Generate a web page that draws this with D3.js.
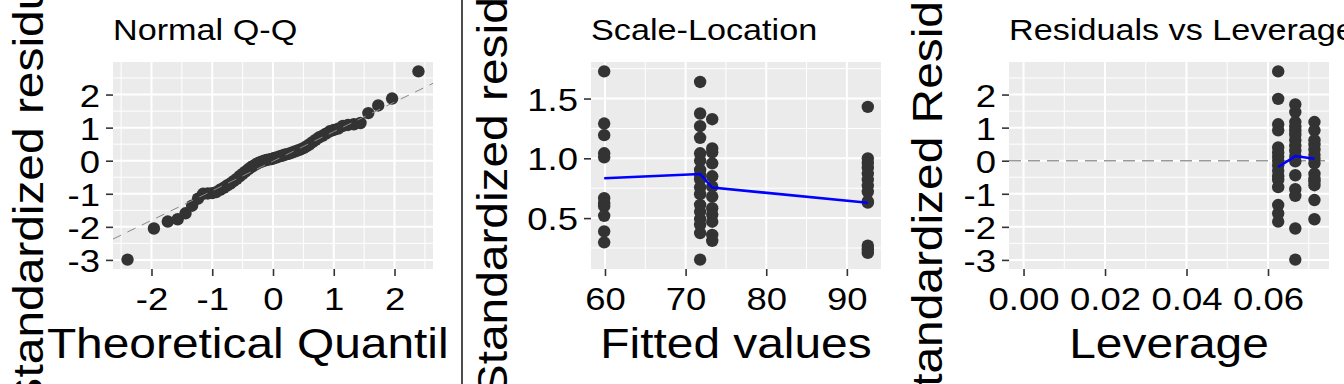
<!DOCTYPE html>
<html>
<head>
<meta charset="utf-8">
<script src="https://cdn.jsdelivr.net/npm/d3@7"></script>
<style>
  body { margin: 0; background: #fff; }
  svg { display: block; }
  text { font-family: "Liberation Sans", Arial, sans-serif; fill: #000; }
</style>
</head>
<body>
<svg id="fig" width="1344" height="384"></svg>
<script>
// ---- data ----

// Normal Q-Q: theoretical quantiles and sorted standardized residuals
const qqTheoretical = [
  -2.394, -1.960, -1.732, -1.569, -1.440, -1.331, -1.235, -1.150, -1.073, -1.001,
  -0.935, -0.872, -0.812, -0.755, -0.701, -0.649, -0.598, -0.549, -0.501, -0.454,
  -0.408, -0.363, -0.319, -0.275, -0.232, -0.189, -0.147, -0.105, -0.063, -0.021,
   0.021,  0.063,  0.105,  0.147,  0.189,  0.232,  0.275,  0.319,  0.363,  0.408,
   0.454,  0.501,  0.549,  0.598,  0.649,  0.701,  0.755,  0.812,  0.872,  0.935,
   1.001,  1.073,  1.150,  1.235,  1.331,  1.440,  1.569,  1.732,  1.960,  2.394
];
const qqSample = [
  -2.99, -2.05, -1.84, -1.77, -1.59, -1.36, -1.15, -1.00, -0.99, -0.98,
  -0.95, -0.88, -0.82, -0.75, -0.69, -0.62, -0.55, -0.47, -0.40, -0.33,
  -0.26, -0.20, -0.15, -0.10, -0.06, -0.03,  0.00,  0.02,  0.04,  0.05,
   0.08,  0.10,  0.13,  0.15,  0.18,  0.20,  0.22,  0.25,  0.28,  0.31,
   0.34,  0.38,  0.43,  0.49,  0.56,  0.63,  0.70,  0.75,  0.82,  0.89,
   0.93,  0.97,  1.05,  1.08,  1.10,  1.14,  1.44,  1.67,  1.88,  2.70
];
const qqLineIntercept = -0.015;
const qqLineSlope = 0.894;
const qqTicks = [-2, -1, 0, 1, 2];
const residTicks = [-3, -2, -1, 0, 1, 2];

// Scale-Location: sqrt(|standardized residuals|) by fitted value
const fittedLevels = [59.9, 71.8, 73.3, 92.6];
const slAt599 = [1.727, 1.291, 1.194, 1.042, 1.008, 0.667, 0.625, 0.600, 0.519, 0.389, 0.297];
const slAt718 = [1.639, 1.375, 1.269, 1.172, 1.042, 0.980, 0.903, 0.860, 0.825, 0.758, 0.700,
                 0.611, 0.555, 0.492, 0.444, 0.375, 0.153];
const slAt733 = [1.327, 1.083, 1.050, 0.958, 0.850, 0.763, 0.680, 0.583, 0.530, 0.470, 0.360, 0.310];
const slAt926 = [1.430, 1.000, 0.960, 0.920, 0.870, 0.820, 0.770, 0.720, 0.640, 0.630, 0.270, 0.240, 0.210];
const slSmooth = [0.833, 0.869, 0.756, 0.628];
const slTicksX = [60, 70, 80, 90];
const slTicksY = [0.5, 1.0, 1.5];

// Residuals vs Leverage
const leverageLevels = [0.0625, 0.0667, 0.0714];
const levAt0625 = [2.70, 1.87, 1.10, 0.92, 0.40, 0.25, 0.12, 0.00, -0.14, -0.30, -0.47, -0.58,
                   -0.80, -1.34, -1.59, -1.84];
const levAt0667 = [1.70, 1.47, 1.17, 1.02, 0.90, 0.78, 0.62, 0.45, 0.30, 0.13, -0.02, -0.44,
                   -0.86, -1.06, -2.05, -2.99];
const levAt0714 = [1.17, 0.92, 0.62, 0.48, 0.33, 0.18, 0.05, -0.08, -0.40, -0.55, -0.62, -0.74,
                   -1.19, -1.77];
const levSmooth = [-0.19, 0.14, 0.06];
const levTicks = [0, 0.02, 0.04, 0.06];

// ---- layout ----
const W = 1344, H = 384;
const plotTop = 62, plotBottom = 269;
const stretch = 1.14;          // glyphs in the reference are wider than Liberation Sans
const tickSize = 32, titleSize = 30, axisTitleSize = 42;

const svg = d3.select('#fig');
const defs = svg.append('defs');

function expand([a, b]) {
  const d = (b - a) * 0.05;
  return [a - d, b + d];
}

function minors(major, domain) {
  const step = major[1] - major[0];
  const out = [];
  for (let i = -1; i < major.length; i++) {
    const v = major[0] + step * (i + 0.5);
    if (v >= domain[0] && v <= domain[1]) out.push(v);
  }
  return out;
}

function panel(cfg) {
  const clipId = 'clip-' + cfg.id;
  defs.append('clipPath').attr('id', clipId)
    .append('rect')
    .attr('x', cfg.x0).attr('y', 0)
    .attr('width', cfg.x1 - cfg.x0).attr('height', H);

  const g = svg.append('g').attr('clip-path', `url(#${clipId})`);
  const x = d3.scaleLinear().domain(cfg.xDomain).range([cfg.left, cfg.right]);
  const y = d3.scaleLinear().domain(cfg.yDomain).range([plotBottom, plotTop]);

  g.append('rect')
    .attr('x', cfg.left).attr('y', plotTop)
    .attr('width', cfg.right - cfg.left).attr('height', plotBottom - plotTop)
    .attr('fill', '#EBEBEB');

  const grid = g.append('g');
  const vLines = (vals, w) => grid.append('g').selectAll('line').data(vals).join('line')
    .attr('x1', d => x(d)).attr('x2', d => x(d))
    .attr('y1', plotTop).attr('y2', plotBottom)
    .attr('stroke', '#fff').attr('stroke-width', w);
  const hLines = (vals, w) => grid.append('g').selectAll('line').data(vals).join('line')
    .attr('y1', d => y(d)).attr('y2', d => y(d))
    .attr('x1', cfg.left).attr('x2', cfg.right)
    .attr('stroke', '#fff').attr('stroke-width', w);
  vLines(minors(cfg.xTicks, cfg.xDomain), 1);
  hLines(minors(cfg.yTicks, cfg.yDomain), 1);
  vLines(cfg.xTicks, 2);
  hLines(cfg.yTicks, 2);

  // axes
  const xAxis = d3.axisBottom(x).tickValues(cfg.xTicks).tickSize(7).tickFormat(cfg.xFmt);
  const yAxis = d3.axisLeft(y).tickValues(cfg.yTicks).tickSize(7).tickFormat(cfg.yFmt);

  const gx = g.append('g').attr('transform', `translate(0,${plotBottom})`).call(xAxis);
  const gy = g.append('g').attr('transform', `translate(${cfg.left},0)`).call(yAxis);
  [gx, gy].forEach(a => {
    a.select('.domain').remove();
    a.selectAll('.tick line').attr('stroke', '#333').attr('stroke-width', 1.6);
    a.selectAll('.tick text')
      .attr('fill', '#000')
      .style('font-family', '"Liberation Sans", Arial, sans-serif')
      .style('font-size', tickSize + 'px');
  });
  gx.selectAll('.tick text')
    .attr('y', 41).attr('dy', null)
    .attr('transform', `scale(${stretch},1)`);
  gy.selectAll('.tick text')
    .attr('x', -13 / stretch).attr('dy', '0.36em')
    .attr('transform', `scale(${stretch},1)`);

  // titles
  g.append('text')
    .attr('transform', `translate(${cfg.left},40) scale(${stretch},1)`)
    .style('font-size', titleSize + 'px')
    .text(cfg.title);

  g.append('text')
    .attr('transform', `translate(${(cfg.left + cfg.right) / 2},358) scale(${stretch},1)`)
    .attr('text-anchor', 'middle')
    .style('font-size', axisTitleSize + 'px')
    .text(cfg.xTitle);

  const yt = g.append('g')
    .attr('transform', `translate(${cfg.yTitleX},${(plotTop + plotBottom) / 2 + 0.5}) rotate(-90) scale(${stretch},1)`);
  const ytText = yt.append('text')
    .attr('text-anchor', 'middle')
    .style('font-size', axisTitleSize + 'px')
    .text(cfg.yTitle);
  if (cfg.sqrtBar) {
    // vinculum of the square-root sign above the rotated title
    const len = ytText.node().getComputedTextLength();
    yt.append('line')
      .attr('x1', -len / 2 + 12).attr('x2', len / 2)
      .attr('y1', -45).attr('y2', -45)
      .attr('stroke', '#000').attr('stroke-width', 1.6 / stretch);
  }

  return { g, x, y };
}

const intFmt = d => String(d);

function qqPanel() {
  const pts = qqTheoretical.map((t, i) => [t, qqSample[i]]);
  const p = panel({
    id: 'qq', x0: 0, x1: 448, left: 113, right: 433,
    xDomain: expand(d3.extent(qqTheoretical)),
    yDomain: expand(d3.extent(qqSample)),
    xTicks: qqTicks, yTicks: residTicks, xFmt: intFmt, yFmt: intFmt,
    title: 'Normal Q-Q', xTitle: 'Theoretical Quantiles',
    yTitle: 'Standardized residuals', yTitleX: 43
  });
  p.g.append('g').selectAll('circle').data(pts).join('circle')
    .attr('cx', d => p.x(d[0])).attr('cy', d => p.y(d[1]))
    .attr('r', 6.2).attr('fill', '#333');
  const xd = p.x.domain();
  const line = d3.line().x(d => p.x(d)).y(d => p.y(qqLineIntercept + qqLineSlope * d));
  p.g.append('path')
    .attr('d', line(xd))
    .attr('fill', 'none').attr('stroke', '#888').attr('stroke-width', 1)
    .attr('stroke-dasharray', '9,7');
}

function slPanel() {
  const groups = [slAt599, slAt718, slAt733, slAt926];
  const pts = [];
  groups.forEach((vals, i) => vals.forEach(v => pts.push([fittedLevels[i], v])));
  const p = panel({
    id: 'sl', x0: 448, x1: 896, left: 591, right: 881,
    xDomain: expand(d3.extent(fittedLevels)),
    yDomain: expand(d3.extent(pts, d => d[1])),
    xTicks: slTicksX, yTicks: slTicksY, xFmt: intFmt, yFmt: d3.format('.1f'),
    title: 'Scale-Location', xTitle: 'Fitted values',
    yTitle: '\u221A|Standardized residuals|', yTitleX: 507, sqrtBar: true
  });
  p.g.append('g').selectAll('circle').data(pts).join('circle')
    .attr('cx', d => p.x(d[0])).attr('cy', d => p.y(d[1]))
    .attr('r', 6.2).attr('fill', '#333');
  const line = d3.line().x(d => p.x(d[0])).y(d => p.y(d[1]));
  p.g.append('path')
    .attr('d', line(fittedLevels.map((f, i) => [f, slSmooth[i]])))
    .attr('fill', 'none').attr('stroke', '#0000FF').attr('stroke-width', 2.6);
}

function levPanel() {
  const groups = [levAt0625, levAt0667, levAt0714];
  const pts = [];
  groups.forEach((vals, i) => vals.forEach(v => pts.push([leverageLevels[i], v])));
  const p = panel({
    id: 'lev', x0: 896, x1: 1344, left: 1009, right: 1329,
    xDomain: expand([0, d3.max(leverageLevels)]),
    yDomain: expand(d3.extent(pts, d => d[1])),
    xTicks: levTicks, yTicks: residTicks, xFmt: d3.format('.2f'), yFmt: intFmt,
    title: 'Residuals vs Leverage', xTitle: 'Leverage',
    yTitle: 'Standardized Residuals', yTitleX: 942
  });
  p.g.append('line')
    .attr('x1', p.x.range()[0]).attr('x2', p.x.range()[1])
    .attr('y1', p.y(0)).attr('y2', p.y(0))
    .attr('stroke', '#999').attr('stroke-width', 1.5)
    .attr('stroke-dasharray', '12,7');
  p.g.append('g').selectAll('circle').data(pts).join('circle')
    .attr('cx', d => p.x(d[0])).attr('cy', d => p.y(d[1]))
    .attr('r', 6.2).attr('fill', '#333');
  const line = d3.line().x(d => p.x(d[0])).y(d => p.y(d[1]));
  p.g.append('path')
    .attr('d', line(leverageLevels.map((l, i) => [l, levSmooth[i]])))
    .attr('fill', 'none').attr('stroke', '#0000FF').attr('stroke-width', 2.6);
}

qqPanel();

slPanel();

levPanel();
</script>
</body>
</html>
